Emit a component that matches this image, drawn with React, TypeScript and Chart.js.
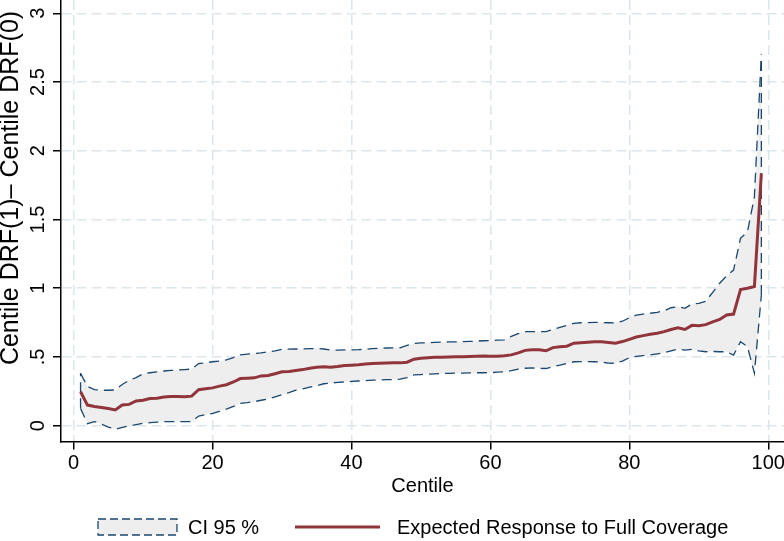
import React, { useEffect, useRef } from "react";
import { Chart, registerables } from "chart.js";

Chart.register(...registerables);

const CENTILES = [
  1, 2, 3, 4, 5, 6, 7, 8, 9, 10, 11, 12, 13, 14, 15, 16, 17, 18, 19, 20,
  21, 22, 23, 24, 25, 26, 27, 28, 29, 30, 31, 32, 33, 34, 35, 36, 37, 38, 39, 40,
  41, 42, 43, 44, 45, 46, 47, 48, 49, 50, 51, 52, 53, 54, 55, 56, 57, 58, 59, 60,
  61, 62, 63, 64, 65, 66, 67, 68, 69, 70, 71, 72, 73, 74, 75, 76, 77, 78, 79, 80,
  81, 82, 83, 84, 85, 86, 87, 88, 89, 90, 91, 92, 93, 94, 95, 96, 97, 98, 99,
];

const EXPECTED = [
  0.247, 0.15, 0.14, 0.132, 0.125, 0.115, 0.15, 0.155, 0.18, 0.185,
  0.198, 0.2, 0.208, 0.212, 0.213, 0.21, 0.215, 0.262, 0.268, 0.275,
  0.288, 0.298, 0.318, 0.343, 0.345, 0.348, 0.362, 0.365, 0.378, 0.392,
  0.395, 0.402, 0.408, 0.418, 0.425, 0.428, 0.425, 0.43, 0.437, 0.44,
  0.443, 0.448, 0.452, 0.455, 0.456, 0.458, 0.457, 0.462, 0.484, 0.49,
  0.495, 0.497, 0.498, 0.5, 0.501, 0.502, 0.504, 0.505, 0.507, 0.505,
  0.506, 0.508, 0.515, 0.53, 0.548, 0.552, 0.553, 0.545, 0.568, 0.575,
  0.578, 0.6, 0.604, 0.607, 0.61, 0.61, 0.605, 0.6, 0.612, 0.628,
  0.645, 0.655, 0.665, 0.672, 0.684, 0.7, 0.712, 0.7, 0.73, 0.727,
  0.735, 0.755, 0.773, 0.805, 0.812, 0.99, 1.0, 1.012, 1.835,
];

const CI_UPPER = [
  0.381, 0.285, 0.262, 0.258, 0.258, 0.26, 0.3, 0.33, 0.35, 0.378,
  0.385, 0.392, 0.398, 0.402, 0.405, 0.408, 0.412, 0.452, 0.458, 0.465,
  0.47, 0.478, 0.495, 0.515, 0.52, 0.525, 0.53, 0.537, 0.545, 0.555,
  0.557, 0.558, 0.558, 0.56, 0.562, 0.558, 0.551, 0.55, 0.551, 0.552,
  0.553, 0.556, 0.56, 0.563, 0.565, 0.566, 0.567, 0.585, 0.598, 0.602,
  0.604, 0.606, 0.608, 0.609, 0.61, 0.611, 0.613, 0.615, 0.618, 0.62,
  0.622, 0.624, 0.65, 0.67, 0.684, 0.685, 0.684, 0.684, 0.7, 0.715,
  0.73, 0.745, 0.749, 0.75, 0.752, 0.751, 0.749, 0.748, 0.76, 0.785,
  0.805, 0.812, 0.818, 0.825, 0.835, 0.858, 0.865, 0.854, 0.885, 0.89,
  0.905, 0.97, 1.036, 1.09, 1.132, 1.363, 1.411, 1.665, 2.7,
];

const CI_LOWER = [
  0.126, 0.015, 0.03, 0.012, -0.01, -0.026, -0.012, -0.002, 0.008, 0.017,
  0.022, 0.026, 0.029, 0.03, 0.03, 0.029, 0.03, 0.07, 0.08, 0.09,
  0.105, 0.12, 0.14, 0.163, 0.168, 0.175, 0.185, 0.195, 0.21, 0.225,
  0.24, 0.258, 0.268, 0.28, 0.29, 0.305, 0.31, 0.315, 0.318, 0.322,
  0.325, 0.328, 0.331, 0.333, 0.335, 0.336, 0.338, 0.35, 0.369, 0.372,
  0.375, 0.377, 0.379, 0.381, 0.382, 0.383, 0.384, 0.385, 0.385, 0.386,
  0.389, 0.393, 0.4, 0.412, 0.418, 0.42, 0.418, 0.416, 0.43, 0.44,
  0.452, 0.465, 0.466, 0.466, 0.465, 0.462, 0.455, 0.454, 0.47, 0.495,
  0.505, 0.51, 0.515, 0.522, 0.53, 0.545, 0.556, 0.55, 0.555, 0.545,
  0.538, 0.54, 0.538, 0.538, 0.514, 0.611, 0.575, 0.381, 0.95,
];

const X_TICKS = [0, 20, 40, 60, 80, 100];
const X_TICK_LABELS = ["0", "20", "40", "60", "80", "100"];
const Y_TICKS = [0, 0.5, 1, 1.5, 2, 2.5, 3];
const Y_TICK_LABELS = ["0", ".5", "1", "1.5", "2", "2.5", "3"];

const X_TITLE = "Centile";
const Y_TITLE = "Centile DRF(1)\u2013 Centile DRF(0)";
const LEGEND_CI = "CI 95 %";
const LEGEND_EXPECTED = "Expected Response to Full Coverage";

const FONT = '"Liberation Sans", Arial, Helvetica, sans-serif';
const NAVY = "#1a476f";
const MAROON = "#90353b";
const BAND = "#eeeeee";
const GRID = "#dde6ea";

const overlayPlugin = {
  id: "overlay",
  afterDraw(chart: any) {
    const ctx = chart.ctx as CanvasRenderingContext2D;
    // Y axis title
    ctx.save();
    ctx.translate(11, 188);
    ctx.rotate(-Math.PI / 2);
    ctx.font = `25px ${FONT}`;
    ctx.fillStyle = "#000";
    ctx.textAlign = "center";
    ctx.textBaseline = "middle";
    ctx.fillText(Y_TITLE, 0, 0);
    ctx.restore();

    // Legend
    const cy = 527;
    ctx.save();
    ctx.fillStyle = BAND;
    ctx.fillRect(98, cy - 8, 79, 16);
    ctx.strokeStyle = NAVY;
    ctx.lineWidth = 1.3;
    ctx.setLineDash([8, 4]);
    ctx.strokeRect(98, cy - 8, 79, 16);
    ctx.setLineDash([]);
    ctx.strokeStyle = MAROON;
    ctx.lineWidth = 3;
    ctx.beginPath();
    ctx.moveTo(295, cy);
    ctx.lineTo(380, cy);
    ctx.stroke();
    ctx.fillStyle = "#000";
    ctx.font = `20px ${FONT}`;
    ctx.textAlign = "left";
    ctx.textBaseline = "middle";
    ctx.fillText(LEGEND_CI, 188, cy + 1);
    ctx.fillText(LEGEND_EXPECTED, 397, cy + 1);
    ctx.restore();
  },
};

export default function App() {
  const ref = useRef<HTMLCanvasElement | null>(null);

  useEffect(() => {
    if (!ref.current) return;
    const pts = (ys: number[]) => CENTILES.map((c, i) => ({ x: c, y: ys[i] }));
    const last = CENTILES.length - 1;
    const capStyle = {
      borderColor: NAVY,
      borderWidth: 1.3,
      borderDash: [10, 6],
      pointRadius: 0,
      fill: false,
    };
    const chart = new Chart(ref.current, {
      type: "line",
      data: {
        datasets: [
          {
            label: LEGEND_EXPECTED,
            data: pts(EXPECTED),
            borderColor: MAROON,
            borderWidth: 3,
            pointRadius: 0,
            fill: false,
          },
          {
            label: LEGEND_CI,
            data: pts(CI_UPPER),
            ...capStyle,
            fill: { target: 2 },
            backgroundColor: BAND,
          },
          {
            label: "lower",
            data: pts(CI_LOWER),
            ...capStyle,
          },
          {
            label: "capL",
            data: [
              { x: CENTILES[0], y: CI_LOWER[0] },
              { x: CENTILES[0], y: CI_UPPER[0] },
            ],
            ...capStyle,
          },
          {
            label: "capR",
            data: [
              { x: CENTILES[last], y: CI_LOWER[last] },
              { x: CENTILES[last], y: CI_UPPER[last] },
            ],
            ...capStyle,
          },
        ],
      },
      options: {
        responsive: false,
        animation: false,
        layout: { padding: 0 },
        plugins: {
          legend: { display: false },
          tooltip: { enabled: false },
          filler: { drawTime: "beforeDatasetsDraw" },
        },
        elements: { line: { tension: 0 } },
        scales: {
          x: {
            type: "linear",
            min: -1.814,
            max: 102.26,
            afterBuildTicks: (s: any) => {
              s.ticks = X_TICKS.map((v) => ({ value: v }));
            },
            afterFit: (s: any) => {
              s.height = 99.5;
              s.paddingLeft = 0;
              s.paddingRight = 0;
            },
            grid: {
              color: GRID,
              lineWidth: 1.5,
              tickLength: 8,
              tickColor: "#000",
              tickWidth: 1.5,
            },
            border: { display: true, color: "#000", width: 1.5, dash: [10, 5] },
            ticks: {
              color: "#000",
              font: { family: FONT, size: 20 },
              padding: 2,
              maxRotation: 0,
              minRotation: 0,
              callback: (_v: any, i: number) => X_TICK_LABELS[i],
            },
            title: {
              display: true,
              text: X_TITLE,
              color: "#000",
              font: { family: FONT, size: 20 },
              padding: { top: 0, bottom: 43 },
            },
          },
          y: {
            type: "linear",
            min: -0.115,
            max: 3.0967,
            afterBuildTicks: (s: any) => {
              s.ticks = Y_TICKS.map((v) => ({ value: v }));
            },
            afterFit: (s: any) => {
              s.width = 61;
              s.paddingTop = 0;
              s.paddingBottom = 0;
            },
            grid: {
              color: GRID,
              lineWidth: 1.5,
              tickLength: 8,
              tickColor: "#000",
              tickWidth: 1.5,
            },
            border: { display: true, color: "#000", width: 1.5, dash: [10, 5] },
            ticks: {
              color: "#000",
              font: { family: FONT, size: 20 },
              padding: 1,
              minRotation: 90,
              maxRotation: 90,
              crossAlign: "center",
              callback: (_v: any, i: number) => Y_TICK_LABELS[i],
            },
          },
        },
      },
      plugins: [overlayPlugin],
    } as any);
    return () => chart.destroy();
  }, []);

  return (
    <div style={{ position: "fixed", left: 0, top: 0, width: 784, height: 541, background: "#fff" }}>
      <canvas ref={ref} width={784} height={541} style={{ display: "block", width: 784, height: 541 }} />
    </div>
  );
}
